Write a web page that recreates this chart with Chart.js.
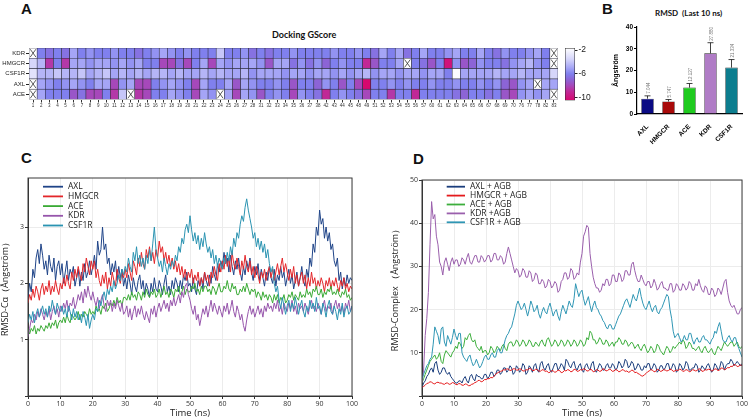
<!DOCTYPE html>
<html>
<head>
<meta charset="utf-8">
<script src="https://cdn.jsdelivr.net/npm/chart.js@4.4.0/dist/chart.umd.min.js"></script>
<style>
body { margin:0; background:#fff; width:750px; height:419px; overflow:hidden; position:relative; font-family:"Liberation Sans", Arial, sans-serif; }
canvas { position:absolute; }
.lbl { position:absolute; font-weight:bold; font-size:15px; line-height:17px; color:#111; }
.ttl { position:absolute; font-family:Lato, sans-serif; font-weight:bold; white-space:nowrap; line-height:1; color:#111; }
</style>
</head>
<body>
<div class="lbl" style="left:21px;top:0px">A</div>
<div class="lbl" style="left:602px;top:0px">B</div>
<div class="lbl" style="left:21px;top:149px">C</div>
<div class="lbl" style="left:413px;top:150px">D</div>
<div class="ttl" style="left:272px;top:30px;font-size:9px">Docking GScore</div>
<div class="ttl" style="left:655px;top:9px;font-size:8px">RMSD&nbsp; (Last 10 ns)</div>

<canvas id="heat" width="560" height="112" style="left:0;top:0"></canvas>
<canvas id="cbar" width="40" height="112" style="left:560px;top:0"></canvas>
<canvas id="rmsd" width="150" height="145" style="left:600px;top:0"></canvas>
<canvas id="calpha" width="375" height="249" style="left:0;top:170px"></canvas>
<canvas id="complex" width="360" height="249" style="left:390px;top:170px"></canvas>

<script>
// ---- A: docking GScore heatmap (null = not docked, drawn as X) ----
const heatCols = [1,2,3,4,5,6,7,8,9,10,11,12,13,14,15,16,17,18,19,20,21,22,23,24,25,26,27,28,
  31,32,33,34,35,36,37,38,42,43,44,45,48,49,51,52,53,54,55,56,57,
  60,61,62,63,64,65,66,67,68,69,70,76,77,78,82,83];
const rowNames = ['ACE','AXL','CSF1R','HMGCR','KDR']; // bottom to top

const gsKDR = [null,-6,-6.5,-6,-6.5,-5,-6,-5.5,-6,-6,
  -5.5,-6,-6,-6.5,-6,-5.5,-5,-5.5,-6,-5.5,
  -6,-6,-6,-4,-6,-6,-5.5,-6.5,-6,-6.5,
  -6,-6,-5.5,-6,-6,-6,-6,-5.5,-6,-6,
  -5.5,-6,-6.5,-5,-6,-5,-6.5,-6,-5,-6,
  -6,-5.5,-5,-6,-6,-5,-6,-6.5,-5.5,-6,
  -6,-5.5,-5,-6,null];
const gsHMGCR = [-3.5,-4.5,-8.5,-6,-8.5,-5,-5,-5.5,-5,-5,
  -5.5,-5,-5.5,-5,-6,-6,-8,-8,-6.5,-8,
  -6,-5,-8,-5,-5.5,-5,-5,-5,-5.5,-7.5,
  -5,-5,-6.5,-5.5,-6.5,-5.5,-7,-6,-5.5,-6,
  -6,-9,-7.5,-6,-6,-5,null,-6,-6.5,-7.5,
  -6,-10,-5.5,-7.5,-7,-5.5,-6,-6,-6.5,-5.5,
  -5,-4.5,-5.5,-6,null];
const gsCSF1R = [-3,-4.5,-4.5,-4,-4.5,-4.5,-4,-5,-4.5,-4,
  -5,-4.5,-5,-4.5,-5,-4.5,-4.5,-5,-4.5,-5,
  -5,-4.5,-5,-4.5,-5,-5,-4.5,-5.5,-5,-5,
  -5,-5.5,-5,-5,-5.5,-5,-5,-5.5,-5,-5.5,
  -5,-4.5,-5.5,-5,-5,-5.5,-5,-5,-5.5,-5,
  -5,-6,-1.8,-5,-5,-5,-5,-4.5,-5,-5,
  -4.5,-5,-5,-5,-3.5];
const gsAXL = [null,-5,-5.5,-6,-5.5,-5,-5.5,-6,-5,-5,
  -8,-5.5,-5,-8,-8,-6,-5.5,-5,-5.5,-6,
  -8,-5,-6,-6,-5,-7.5,-5,-5.5,-6,-6,
  -5.5,-6,-7.5,-6,-6,-7,-5.5,-6,-7.5,-6,
  -8,-10.5,-6,-6,-5.5,-6,-5.5,-6,-6,-5.5,
  -6,-6,-5.5,-6,-6,-5.5,-6,-5.5,-7,-7.5,
  -5.5,-5,null,-5,-5];
const gsACE = [null,-5,-6,-6,-6,-7.5,-6.5,-8,-8,-6,
  -8.5,-4,null,-8.5,-8,-6,-6,-5,-5.5,-6,
  -8,-5,-5.5,null,-5,-8,-5,-5.5,-7.5,-6,
  -5.5,-6,-8,-5.5,-6,-6.5,-9,-6,-5.5,-6,
  -6.5,-8,-6,-6,-8.5,-6,-6,-9,-6,-6,
  -6,-6,-6.5,-7,-6,-6,-6.5,-6,-7.5,-8,
  -5.5,-5,-5.5,-5,null];
const cbMin = -10.5, cbMax = -1.66;
const cbTicks = [-2,-4,-6,-8,-10];

// ---- B: RMSD last 10 ns ----
const rmsdNames = ['AXL','HMGCR','ACE','KDR','CSF1R'];
const rmsdMeans = [7.044, 5.747, 12.127, 27.880, 21.334];
const rmsdErr = [1.3, 0.9, 1.9, 4.9, 3.7];

// ---- C: RMSD-Calpha, 0.5 ns steps 0..100 ----
const timeNs = Array.from({length:201}, (_, i) => i / 2);
const caAXL = [1.75,2.0,1.85,2.25,2.1,2.45,2.6,2.35,2.7,2.5,
  2.25,2.4,2.15,2.5,2.3,2.2,2.45,2.05,2.3,2.4,
  2.15,2.35,2.0,2.2,2.4,2.05,2.25,2.15,2.3,1.95,
  2.1,2.25,1.95,2.2,2.05,2.35,2.1,2.2,2.4,2.15,
  2.3,2.5,2.25,2.75,2.5,2.6,3.0,2.6,2.7,2.35,
  2.45,2.15,2.35,2.2,2.4,2.05,2.3,2.1,2.25,1.95,
  2.1,1.9,2.15,2.0,1.8,2.1,1.95,1.85,2.05,2.15,
  1.9,2.05,1.8,2.0,1.9,1.75,2.0,1.85,2.1,1.9,
  1.85,2.05,1.95,1.8,2.0,2.15,1.85,1.95,1.8,2.05,
  1.9,2.1,2.0,1.85,2.05,1.9,2.15,2.05,2.2,1.95,
  2.0,1.85,2.1,1.9,1.8,2.05,1.95,2.1,1.9,2.2,
  2.05,1.95,2.15,2.0,2.3,2.15,2.05,2.35,2.2,2.4,
  2.3,2.55,2.35,2.45,2.2,2.5,2.3,2.15,2.4,2.25,
  2.45,2.2,2.05,2.3,2.15,2.4,2.25,2.45,2.2,2.05,
  2.3,2.15,2.35,2.05,2.25,2.1,1.95,2.2,2.05,2.3,
  2.1,2.0,2.25,1.95,2.15,2.05,2.3,2.1,2.2,1.95,
  2.1,2.25,2.0,2.15,1.9,2.05,2.2,1.95,2.1,2.3,
  2.05,1.95,2.25,2.1,2.45,2.3,2.7,2.55,3.0,2.85,
  3.3,3.05,3.15,2.8,3.0,2.75,2.9,2.6,2.7,2.4,
  2.3,2.45,2.05,2.2,1.9,2.1,1.95,2.15,2.0,2.1,
  2.05];
const caHMGCR = [1.65,1.8,1.7,1.9,1.75,1.95,1.85,1.7,1.9,2.0,
  1.8,1.95,1.85,2.05,1.8,1.95,1.85,2.05,1.9,1.8,
  2.0,1.9,2.1,1.95,2.15,2.0,1.9,2.2,2.05,2.25,
  2.1,2.3,2.15,2.05,2.35,2.2,2.45,2.3,2.15,2.4,
  2.25,2.4,2.1,2.25,2.05,1.95,2.15,2.0,2.2,1.9,
  2.1,1.95,2.2,2.05,1.95,2.25,2.1,2.0,2.2,2.1,
  2.25,2.1,2.35,2.2,2.05,2.4,2.3,2.15,2.45,2.3,
  2.55,2.35,2.25,2.6,2.45,2.65,2.4,2.55,2.35,2.6,
  2.45,2.75,2.55,2.65,2.4,2.55,2.35,2.5,2.3,2.45,
  2.25,2.4,2.2,2.35,2.15,2.3,2.1,2.25,2.05,2.2,
  2.1,2.25,2.0,2.15,2.05,2.2,1.95,2.1,2.0,2.2,
  2.05,2.15,1.95,2.2,2.1,2.3,2.15,2.05,2.35,2.2,
  2.4,2.25,2.5,2.3,2.45,2.2,2.55,2.35,2.25,2.45,
  2.3,2.15,2.4,2.25,2.5,2.3,2.2,2.4,2.15,2.3,
  2.1,2.3,2.15,2.0,2.2,2.1,2.25,2.05,2.2,2.3,
  2.1,2.25,2.05,2.2,2.35,2.15,2.3,2.45,2.2,2.35,
  2.2,2.05,2.25,2.1,2.3,2.0,2.15,1.95,2.1,2.2,
  2.0,2.15,1.9,2.1,1.95,2.2,2.0,2.1,1.9,2.05,
  1.95,2.1,2.0,1.85,2.05,1.95,2.1,1.9,2.05,1.95,
  2.1,1.95,1.85,2.05,1.95,2.1,1.9,2.0,1.85,1.95,
  1.9];
const caACE = [1.2,1.1,1.2,1.15,1.25,1.1,1.2,1.15,1.25,1.2,
  1.15,1.25,1.2,1.3,1.2,1.3,1.25,1.35,1.2,1.3,
  1.35,1.3,1.4,1.3,1.45,1.35,1.3,1.45,1.4,1.35,
  1.4,1.5,1.35,1.45,1.4,1.5,1.45,1.4,1.55,1.45,
  1.5,1.45,1.6,1.5,1.55,1.45,1.6,1.55,1.65,1.5,
  1.55,1.65,1.6,1.7,1.6,1.75,1.65,1.7,1.6,1.75,
  1.75,1.7,1.8,1.7,1.85,1.75,1.8,1.7,1.85,1.8,
  1.7,1.85,1.75,1.9,1.8,1.75,1.85,1.8,1.9,1.75,
  1.8,1.9,1.75,1.85,1.95,1.8,1.85,1.75,1.9,1.85,
  1.75,1.9,1.85,1.95,1.8,1.85,1.95,1.8,1.9,1.85,
  1.85,1.95,1.9,2.0,1.85,1.9,1.8,1.95,1.85,1.95,
  1.95,1.85,1.9,1.8,1.95,1.9,1.8,1.9,2.0,1.85,
  1.85,1.95,1.9,2.05,1.9,1.85,2.0,1.9,1.95,1.8,
  1.8,1.9,1.85,1.95,1.85,2.0,1.9,1.8,1.9,1.85,
  1.9,1.75,1.85,1.8,1.7,1.85,1.75,1.8,1.7,1.8,
  1.75,1.65,1.8,1.7,1.8,1.65,1.75,1.7,1.8,1.65,
  1.7,1.8,1.75,1.85,1.7,1.8,1.75,1.7,1.85,1.75,
  1.8,1.75,1.9,1.8,1.85,1.75,1.9,1.85,1.95,1.8,
  1.8,1.9,1.75,1.85,1.8,1.9,1.85,1.95,1.8,1.85,
  1.8,1.9,1.8,1.75,1.85,1.8,1.9,1.75,1.8,1.7,
  1.75];
const caKDR = [1.05,1.2,1.35,1.3,1.45,1.35,1.5,1.4,1.55,1.45,
  1.35,1.5,1.4,1.55,1.35,1.5,1.6,1.45,1.55,1.4,
  1.6,1.5,1.65,1.55,1.7,1.5,1.65,1.6,1.75,1.55,
  1.65,1.8,1.7,1.85,1.65,1.9,1.75,1.95,1.8,1.7,
  1.85,1.7,1.6,1.75,1.55,1.7,1.8,1.6,1.5,1.7,
  1.6,1.7,1.5,1.65,1.55,1.7,1.6,1.5,1.65,1.45,
  1.5,1.6,1.4,1.55,1.35,1.5,1.6,1.4,1.55,1.45,
  1.6,1.45,1.35,1.5,1.4,1.3,1.55,1.45,1.6,1.4,
  1.55,1.65,1.5,1.6,1.7,1.55,1.65,1.5,1.7,1.6,
  1.75,1.6,1.7,1.8,1.65,1.85,1.75,1.95,2.0,1.8,
  1.7,1.55,1.45,1.6,1.35,1.45,1.25,1.4,1.55,1.45,
  1.6,1.4,1.55,1.7,1.5,1.65,1.55,1.45,1.6,1.5,
  1.4,1.6,1.5,1.65,1.45,1.55,1.7,1.5,1.4,1.6,
  1.5,1.35,1.45,1.25,1.15,1.35,1.5,1.6,1.45,1.55,
  1.4,1.5,1.6,1.45,1.55,1.4,1.6,1.5,1.65,1.55,
  1.6,1.5,1.65,1.55,1.7,1.5,1.6,1.45,1.65,1.55,
  1.5,1.65,1.55,1.7,1.5,1.6,1.45,1.65,1.55,1.6,
  1.5,1.65,1.55,1.45,1.6,1.7,1.55,1.6,1.5,1.65,
  1.55,1.45,1.6,1.7,1.5,1.6,1.55,1.65,1.45,1.6,
  1.7,1.55,1.65,1.5,1.6,1.45,1.65,1.55,1.7,1.5,
  1.6];
const caCSF1R = [1.3,1.45,1.35,1.5,1.3,1.45,1.55,1.4,1.5,1.6,
  1.45,1.55,1.4,1.6,1.5,1.7,1.55,1.45,1.65,1.55,
  1.5,1.6,1.45,1.55,1.4,1.6,1.5,1.35,1.55,1.4,
  1.5,1.35,1.45,1.3,1.5,1.4,1.25,1.45,1.2,1.35,
  1.45,1.35,1.55,1.5,1.7,1.6,1.75,1.85,1.7,1.9,
  1.8,1.95,1.85,2.05,1.9,2.0,2.15,2.05,2.25,2.15,
  2.3,2.2,2.45,2.3,2.2,2.55,2.4,2.65,2.35,2.5,
  2.3,2.45,2.25,2.5,2.35,2.6,2.4,2.7,3.0,2.6,
  2.45,2.3,2.4,2.2,2.45,2.3,2.15,2.35,2.25,2.4,
  2.3,2.5,2.4,2.65,2.55,2.8,2.7,2.95,3.05,2.9,
  3.2,2.95,2.75,2.9,2.7,2.85,2.6,2.8,2.65,2.9,
  2.7,2.55,2.65,2.45,2.6,2.35,2.5,2.3,2.45,2.35,
  2.25,2.45,2.35,2.55,2.4,2.65,2.5,2.8,2.65,2.9,
  2.8,3.05,3.2,3.1,3.35,3.5,3.3,3.15,3.0,2.8,
  2.9,2.65,2.8,2.6,2.75,2.55,2.7,2.45,2.6,2.35,
  2.2,2.3,2.0,1.85,1.95,1.7,1.55,1.75,1.6,1.45,
  1.6,1.7,1.5,1.65,1.55,1.75,1.6,1.45,1.6,1.7,
  1.5,1.4,1.6,1.5,1.7,1.55,1.65,1.5,1.75,1.55,
  1.6,1.45,1.65,1.55,1.4,1.6,1.7,1.5,1.45,1.6,
  1.5,1.35,1.55,1.45,1.65,1.4,1.55,1.6,1.45,1.5,
  1.6];

// ---- D: RMSD of complex, 0.5 ns steps ----
const cxAXL = [2,3,3.5,4.5,5,6,6.5,5.5,7.5,8,
  6,5,5.5,6.5,6.5,5.5,5,5.5,4.5,4,
  3.5,3,3,3.5,3.5,3,4,4.5,3.5,3,
  4.5,5,4,3.5,5,4.5,4.5,4,4,5,
  5,4,4.5,5.5,5.5,4.5,5,6,6,5,
  5.5,6.5,6.5,5.5,6,7,6.5,5,5.5,7,
  6.5,5.5,6,7.5,7,5,5.5,7,6.5,5.5,
  7,7.5,6,5.5,7.5,8,6.5,6,7,7.5,
  6,5.5,6.5,7.5,7.5,6,6.5,7.5,7,6,
  8.5,8,7,6.5,7.5,8,6.5,6,7,7.5,
  6,5.5,7,7.5,6.5,6,7.5,8,6,5.5,
  6.5,7.5,7,6,6,7,7.5,6.5,6.5,7.5,
  7,6,6.5,8,7.5,6.5,7,8.5,8,6.5,
  7,8,7.5,6,6.5,7.5,7,6,6,7,
  6.5,7.5,7.5,6,6.5,7.5,7,5.5,6,7,
  7,6,6.5,7.5,7.5,6,6.5,7.5,7,5.5,
  6,7.5,7,6,6.5,8,7.5,6,6,6.5,
  6.5,7.5,7,5.5,6,7,6.5,6,7,7.5,
  6.5,5.5,6,7.5,7,6,6.5,8,7.5,6,
  7,7.5,7.5,8.5,8,7,7.5,8,7.5,7,
  7.5];
const cxHMGCR = [2,2.2,2.5,2.9,3,3.3,3.2,2.9,2.8,3.1,
  3.2,3.0,3,2.8,2.7,3.0,3,2.7,2.8,3.1,
  3,2.7,2.6,2.9,2.8,2.5,2.5,2.8,2.7,2.4,
  2.4,2.7,2.8,3.1,3.2,3.6,3.6,3.3,3.4,3.8,
  3.8,4.0,4,4.3,4.2,4.6,5,5.3,5.5,5.7,
  5.8,6.1,6,6.3,6.2,5.9,6,6.3,6.3,6.0,
  6,6.3,6.2,5.8,5.8,6.1,6,6.4,6.3,5.9,
  5.9,6.2,6.1,5.8,5.7,6.1,6,5.7,5.8,5.4,
  5.5,5.9,5.8,5.5,5.6,6.0,5.9,5.4,5.5,5.9,
  5.8,6.1,6,5.6,5.7,6.2,6.1,5.7,5.8,6.1,
  6,6.3,6.2,5.8,5.8,6.2,6.1,5.6,5.7,6.1,
  6,5.7,5.8,6.3,6.2,5.8,5.9,6.2,6.1,5.7,
  5.8,6.1,6,5.6,5.7,6.1,6,5.7,5.8,5.5,
  5.6,6.0,5.9,5.4,5.5,5.2,5,4.7,4.6,4.9,
  5.2,5.6,5.8,6.1,6,5.6,5.7,6.2,6.1,5.7,
  5.8,6.1,6,5.8,5.9,6.2,6.1,5.7,5.8,6.0,
  5.9,6.2,6.1,5.7,5.8,6.1,6,5.6,5.7,6.1,
  6,5.8,5.9,6.3,6.2,5.7,5.8,6.1,6,6.2,
  6.1,5.8,5.9,6.3,6.2,5.9,6,6.5,6.4,6.1,
  6.2,6.6,6.5,6.9,6.8,7.3,7.2,6.8,6.9,7.2,
  7];
const cxACE = [3,4,5,6,7,8,8.5,9,9.5,8.5,
  9,10,8,7.5,9.5,10.5,10,9.5,9,10,
  10.5,11.5,11,12.5,12,11,11.5,13.5,13,14,
  14.5,13,12.5,13,11.5,11,10.5,11.5,10,10.5,
  10.5,9.5,10,11.5,11,10,10.5,11.5,11,10.5,
  11.5,12,11,10.5,12,12.5,12.5,11.5,12,13,
  12.5,11.5,12,13,12.5,11.5,12,13,12.5,11.5,
  11.5,12.5,12,11.5,12.5,13,12,11.5,13,13.5,
  12.5,11.5,12,13,12.5,11.5,12,13,12.5,11.5,
  12,13,12.5,11.5,12,13,12.5,11.5,12,13,
  12.5,11.5,12,13.5,13,15,14.5,13,13,12,
  12.5,13.5,13,12,12,13,12.5,11.5,12,12.5,
  11.5,12.5,12.5,13.5,13,12,12,13,12.5,11.5,
  12,12.5,12,11,11.5,12,11,10.5,11.5,12,
  11,10,10.5,11.5,11,10,10.5,12,11.5,10.5,
  10,9.5,10.5,11.5,11,10,10.5,11.5,11,11.5,
  12,12.5,12,13,12.5,11,11.5,12.5,12,11,
  11,10.5,11,11.5,10.5,10,11,11.5,10.5,10,
  10.5,11,10,9.5,10.5,11.5,11,10.5,11.5,12.5,
  12,11.5,12,12.5,12.5,11.5,12,12.5,11.5,11,
  11.5];
const cxKDR = [3,6,14,18,24,35,45,41,42,37,
  35,31,30,28,31,32,30.5,29,31,32,
  30.5,31.5,31.5,30,30.5,32,31.5,30.5,32,33,
  31,30.5,31.5,32.5,32.5,31,31,32.5,32,31,
  31.5,32.5,32.5,31,31.5,33,33,31.5,31.5,32.5,
  32,30.5,31,33,34.5,33,31.5,30,28.5,29.5,
  29,27.5,28,29.5,29,27.5,27.5,29,28.5,26.5,
  27,28.5,28,26,26,27,26.5,25,25.5,27,
  26.5,25,25.5,26.5,26,24,24.5,26.5,27,28.5,
  28.5,27,27.5,29.5,29,27,27.5,28.5,28,31,
  33,37,38,39.5,39,33,30,27.5,26,25,
  25,24,24.5,26,25.5,27,27,25.5,26,28,
  28,26.5,26.5,28.5,28,26.5,27,29,29,28,
  28,30.5,31,29,27.5,26.5,26.5,28,27,26,
  25.5,26.5,26.5,25,25.5,27,26,24.5,25,26,
  26.5,25,25,24.5,24.5,26,26,24,24.5,26,
  25.5,24.5,24.5,26,25.5,24.5,25,26.5,26,24.5,
  24.5,26,25.5,27,25.5,24.5,24,25.5,25,23.5,
  23.5,25,24.5,23,23.5,25,24.5,23.5,25,26.5,
  27,24,22,21,20.5,21,20,19,19,20,
  20.5];
const cxCSF1R = [4,5,6,7,7.5,8.5,9,12,16,15,
  14,12,15.5,16,12.5,11.5,14,13,12,13.5,
  15.5,14,13,14.5,14.5,10,9,8.5,8,9,
  9.5,8,7,7.5,8.5,7.5,6.5,7,8,9,
  9.5,8.5,8.5,9.5,10,9,9,10.5,11,10,
  10,11.5,13,14,14.5,15.5,16,17.5,19,21,
  22,21,20,20.5,21.5,20,18.5,20,22,21,
  19.5,20,21,19,18,19.5,20.5,19.5,19,20.5,
  21.5,20,18.5,19.5,20,18.5,17.5,19.5,21,20,
  19,20.5,22,21,20.5,22.5,26,24.5,23,24,
  24.5,22.5,21,22,23,21,19.5,21,22,20.5,
  20,19,18.5,17.5,17,16,15.5,16.5,16.5,15.5,
  15.5,16.5,17.5,18.5,19,20,21,22,22.5,21.5,
  20.5,22,23.5,22.5,22,23.5,25,23,21.5,20.5,
  20,21,22,20.5,19.5,20.5,21,19.5,19,20,
  20.5,21.5,22.5,23.5,23,20,18,15,13.5,14,
  14.5,13.5,12.5,13,14,13,13,14.5,14.5,13,
  12,13,13.5,12.5,12.5,13.5,14,13,13,12.5,
  12,13,13.5,15,14.5,16,17,15,13,12.5,
  12.5,13.5,14,13,12.5,13.5,13.5,12,11,10,
  9];

Chart.defaults.font.family = "'Liberation Sans', Arial, sans-serif";
Chart.defaults.animation = false;
Chart.defaults.responsive = false;
Chart.defaults.plugins.legend.display = false;
Chart.defaults.plugins.tooltip.enabled = false;

// colour map white -> blue -> purple -> magenta
const gsStops = [[-1.66,[255,255,255]],[-3.5,[214,214,250]],[-5,[165,165,246]],[-6,[128,128,238]],
  [-7,[140,100,214]],[-8,[166,72,186]],[-9,[192,40,150]],[-10.5,[214,8,110]]];
function gsColor(v) {
  if (v >= gsStops[0][0]) return 'rgb(255,255,255)';
  for (let i = 0; i < gsStops.length - 1; i++) {
    const a = gsStops[i], b = gsStops[i + 1];
    if (v <= a[0] && v >= b[0]) {
      const t = (a[0] - v) / (a[0] - b[0]);
      const c = a[1].map((x, k) => Math.round(x + (b[1][k] - x) * t));
      return 'rgb(' + c.join(',') + ')';
    }
  }
  return 'rgb(' + gsStops[gsStops.length - 1][1].join(',') + ')';
}

const crossPlugin = {
  id: 'cross',
  afterDatasetsDraw(chart) {
    const c = chart.ctx;
    chart.data.datasets.forEach((ds, i) => {
      const meta = chart.getDatasetMeta(i);
      ds.gs.forEach((v, j) => {
        if (v !== null) return;
        const p = meta.data[j].getProps(['x', 'y', 'base', 'width'], true);
        const l = p.x - p.width / 2 + 1.2, r = p.x + p.width / 2 - 1.2;
        const t = Math.min(p.y, p.base) + 1.2, b = Math.max(p.y, p.base) - 1.2;
        c.save();
        c.strokeStyle = '#333'; c.lineWidth = 0.8;
        c.beginPath(); c.moveTo(l, t); c.lineTo(r, b); c.moveTo(r, t); c.lineTo(l, b); c.stroke();
        c.restore();
      });
    });
  }
};

const heatRows = [gsACE, gsAXL, gsCSF1R, gsHMGCR, gsKDR];
new Chart(document.getElementById('heat'), {
  type: 'bar',
  data: {
    labels: heatCols,
    datasets: heatRows.map((vals, i) => ({
      label: rowNames[i],
      gs: vals,
      data: vals.map(() => 1),
      backgroundColor: vals.map(v => v === null ? '#fff' : gsColor(v)),
      borderColor: '#2a2a3a',
      borderWidth: 0.6,
      borderSkipped: false,
      barPercentage: 1,
      categoryPercentage: 1
    }))
  },
  options: {
    layout: { padding: { top: 48, right: 2, left: 0, bottom: 0 } },
    scales: {
      x: {
        stacked: true,
        ticks: { font: { size: 4.5 }, color: '#333', autoSkip: false, maxRotation: 0, padding: 1 },
        grid: { drawOnChartArea: false, offset: false, tickLength: 3, tickColor: '#333' },
        border: { display: false },
        afterFit: s => { s.height = 12.5; }
      },
      y: {
        stacked: true, min: 0, max: 5,
        afterBuildTicks: s => { s.ticks = rowNames.map((n, i) => ({ value: i + 0.5 })); },
        ticks: { font: { size: 6 }, color: '#222', padding: 1, callback: v => rowNames[Math.floor(v)] },
        grid: { drawOnChartArea: false, tickLength: 3, tickColor: '#222' },
        border: { display: false },
        afterFit: s => { s.width = 29; }
      }
    }
  },
  plugins: [crossPlugin]
});

// colour bar
new Chart(document.getElementById('cbar'), {
  type: 'bar',
  data: {
    labels: ['GScore'],
    datasets: [{
      data: [[cbMin, cbMax]],
      backgroundColor: ctx => {
        const ch = ctx.chart, a = ch.chartArea;
        if (!a) return '#fff';
        const ys = ch.scales.y;
        const g = ch.ctx.createLinearGradient(0, a.top, 0, a.bottom);
        gsStops.forEach(s => {
          const off = (ys.getPixelForValue(s[0]) - a.top) / (a.bottom - a.top);
          g.addColorStop(Math.min(1, Math.max(0, off)), 'rgb(' + s[1].join(',') + ')');
        });
        return g;
      },
      borderColor: '#222', borderWidth: 0.8, borderSkipped: false,
      barPercentage: 1, categoryPercentage: 1
    }]
  },
  options: {
    layout: { padding: { top: 48, bottom: 11.5, left: 5 } },
    scales: {
      x: { display: false },
      y: {
        position: 'right', min: cbMin, max: cbMax,
        afterBuildTicks: s => { s.ticks = cbTicks.map(v => ({ value: v })); },
        ticks: { font: { size: 8.5 }, color: '#222', padding: 1 },
        grid: { drawOnChartArea: false, tickLength: 2.5, tickColor: '#222' },
        border: { display: false },
        afterFit: s => { s.width = 25; }
      }
    }
  }
});

// ---- B ----
const errPlugin = {
  id: 'err',
  afterDatasetsDraw(chart) {
    const c = chart.ctx, ys = chart.scales.y;
    chart.getDatasetMeta(0).data.forEach((bar, i) => {
      const top = ys.getPixelForValue(rmsdMeans[i] + rmsdErr[i]);
      const mid = ys.getPixelForValue(rmsdMeans[i]);
      c.save();
      c.strokeStyle = '#111'; c.lineWidth = 0.8;
      c.beginPath();
      c.moveTo(bar.x, mid); c.lineTo(bar.x, top);
      c.moveTo(bar.x - 3, top); c.lineTo(bar.x + 3, top);
      c.stroke();
      c.translate(bar.x + 1, top - 2);
      c.rotate(-Math.PI / 2);
      c.font = '4.5px "Liberation Sans"';
      c.fillStyle = '#777';
      c.textBaseline = 'middle';
      c.fillText(rmsdMeans[i].toFixed(3), 0, 0);
      c.restore();
    });
  }
};
new Chart(document.getElementById('rmsd'), {
  type: 'bar',
  data: {
    labels: rmsdNames,
    datasets: [{
      data: rmsdMeans,
      backgroundColor: ['#0b0b84', '#a80a0a', '#1ecb1e', '#b07cc6', '#0c7d8e'],
      borderColor: '#222', borderWidth: 0.6,
      barPercentage: 0.6, categoryPercentage: 1
    }]
  },
  options: {
    layout: { padding: { top: 27, right: 8, left: 12 } },
    scales: {
      x: {
        ticks: { font: { size: 6.5, weight: 'bold' }, color: '#000', minRotation: 45, maxRotation: 45, padding: 1 },
        grid: { display: false },
        border: { color: '#000', width: 1.2 },
        afterFit: s => { s.height = 31; }
      },
      y: {
        min: 0, max: 40,
        ticks: { stepSize: 10, font: { size: 6.5, weight: 'bold' }, color: '#000', padding: 1 },
        grid: { drawOnChartArea: false, tickLength: 3, tickColor: '#000' },
        border: { color: '#000', width: 1.2 },
        title: { display: true, text: 'Ångström', font: { size: 7, weight: 'bold' }, color: '#000', padding: { top: 0, bottom: 1 } },
        afterFit: s => { s.width = 25; }
      }
    }
  },
  plugins: [errPlugin]
});

// ---- C & D ----
const inLegend = {
  id: 'inLegend',
  afterDraw(chart, args, o) {
    const c = chart.ctx, a = chart.chartArea;
    c.save();
    c.font = '8.5px "Open Sans"';
    c.textBaseline = 'middle';
    chart.data.datasets.forEach((ds, i) => {
      const y = a.top + o.y + i * o.gap;
      c.strokeStyle = ds.borderColor; c.lineWidth = 1.8;
      c.beginPath(); c.moveTo(a.left + o.x, y); c.lineTo(a.left + o.x + o.len, y); c.stroke();
      c.fillStyle = '#222';
      c.fillText(ds.label, a.left + o.x + o.len + 5, y);
    });
    c.restore();
  }
};
const framePlugin = {
  id: 'frame',
  afterDraw(chart) {
    const c = chart.ctx, a = chart.chartArea;
    c.save();
    c.strokeStyle = '#3a3a3a'; c.lineWidth = 1;
    c.strokeRect(a.left, a.top, a.right - a.left, a.bottom - a.top);
    c.restore();
  }
};

function rmsdLines(id, series, cfg) {
  new Chart(document.getElementById(id), {
    type: 'line',
    data: {
      labels: timeNs,
      datasets: series.map((s, i) => ({
        label: s[0], data: s[1], borderColor: s[2],
        borderWidth: 1, pointRadius: 0, tension: 0,
        order: series.length - i
      }))
    },
    options: {
      layout: { padding: { top: cfg.top, right: cfg.right } },
      plugins: { inLegend: cfg.legend },
      scales: {
        x: {
          type: 'linear', min: 0, max: 100,
          ticks: { stepSize: 10, font: { size: 7, family: 'Open Sans' }, color: '#333', padding: 1 },
          grid: { color: '#ececec', tickColor: '#333', tickLength: 3 },
          border: { color: '#333' },
          title: { display: true, text: 'Time (ns)', font: { size: 9.5, family: 'Open Sans' }, color: '#222', padding: 0 },
          afterFit: s => { s.height = 23; }
        },
        y: {
          min: 0, max: cfg.yMax,
          afterBuildTicks: s => { s.ticks = cfg.yTicks.map(v => ({ value: v })); },
          ticks: { font: { size: 7, family: 'Open Sans' }, color: '#333', padding: 1, callback: v => v === 0 ? '' : v },
          grid: { color: '#ececec', tickColor: '#333', tickLength: 3 },
          border: { color: '#333' },
          title: { display: true, text: cfg.yTitle, font: { size: 9, family: 'Open Sans' }, color: '#222', padding: { top: 0, bottom: 2 } },
          afterFit: s => { s.width = cfg.yWidth; }
        }
      }
    },
    plugins: [inLegend, framePlugin]
  });
}

rmsdLines('calpha', [
  ['AXL', caAXL, '#1f4488'],
  ['HMGCR', caHMGCR, '#e3262a'],
  ['ACE', caACE, '#3aaa35'],
  ['KDR', caKDR, '#9655ab'],
  ['CSF1R', caCSF1R, '#2a93b1']
], { top: 8, right: 23, yMax: 3.87, yTicks: [0, 1, 2, 3], yWidth: 28,
     yTitle: 'RMSD-Cα（Ångström）', legend: { x: 15, y: 8.7, gap: 9.7, len: 20 } });

rmsdLines('complex', [
  ['AXL + AGB', cxAXL, '#1a3d7c'],
  ['HMGCR + AGB', cxHMGCR, '#e41a1c'],
  ['ACE + AGB', cxACE, '#3cae3c'],
  ['KDR +AGB', cxKDR, '#9a5fac'],
  ['CSF1R + AGB', cxCSF1R, '#2f96b4']
], { top: 10, right: 8, yMax: 50, yTicks: [0, 10, 20, 30, 40, 50], yWidth: 32,
     yTitle: 'RMSD-Complex （Ångström）', legend: { x: 24.7, y: 6.7, gap: 8.9, len: 18.3 } });
</script>
</body>
</html>
